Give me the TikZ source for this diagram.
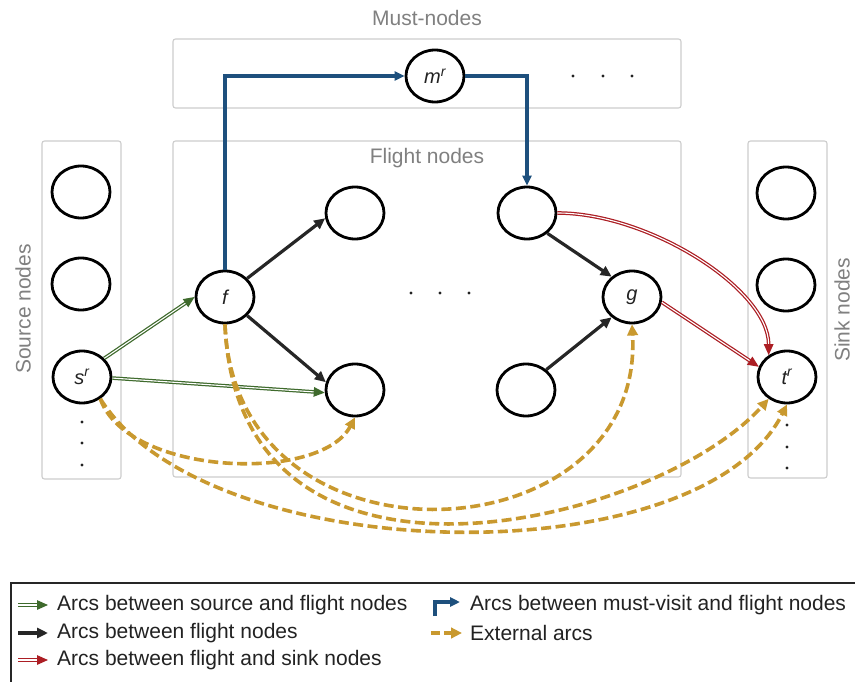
\documentclass[tikz,border=0pt]{standalone}
\usepackage{fontspec}
\setmainfont{Liberation Sans}
\usetikzlibrary{arrows.meta,shapes.geometric}
\definecolor{arcgreen}{RGB}{62,106,44}
\definecolor{arcblack}{RGB}{38,38,38}
\definecolor{arcred}{RGB}{172,30,36}
\definecolor{arcblue}{RGB}{30,80,125}
\definecolor{arcgold}{RGB}{201,153,47}
\definecolor{lblgray}{RGB}{128,128,128}
\definecolor{boxgray}{RGB}{205,205,205}
\definecolor{txt}{RGB}{34,34,34}
\begin{document}
\begin{tikzpicture}[x=1pt,y=-1pt,
  nd/.style={ellipse, draw=black, line width=2.8pt, minimum width=58pt, minimum height=52pt, inner sep=0pt, font=\fontsize{20}{20}\selectfont\itshape, text=txt},
  grp/.style={draw=boxgray, line width=1.1pt, rounded corners=2.5pt},
  grplbl/.style={text=lblgray, font=\fontsize{21}{21}\selectfont, inner sep=0pt},
  dotn/.style={circle, fill=txt, inner sep=0pt, minimum size=3.2pt},
  greenarc/.style={draw=arcgreen, line width=1.25pt, double=white, double distance=1.1pt, -{Triangle[length=11pt,width=9.5pt]}},
  redarc/.style={draw=arcred, line width=1.25pt, double=white, double distance=1.1pt, -{Triangle[length=11pt,width=9.5pt]}},
  blackarc/.style={draw=arcblack, line width=3.2pt, -{Triangle[length=11pt,width=10pt]}},
  bluearc/.style={draw=arcblue, line width=3.2pt, -{Triangle[length=10pt,width=9pt]}},
  goldarc/.style={draw=arcgold, line width=3.6pt, dash pattern=on 10pt off 4.5pt, -{Triangle[length=11pt,width=10.5pt]}},
  legtxt/.style={anchor=west, text=txt, font=\fontsize{21}{21}\selectfont, inner sep=0pt}
]
\useasboundingbox (0,0) rectangle (855,682);
\clip (0,0) rectangle (855,682);
\fill[white] (0,0) rectangle (855,682);

% group boxes
\draw[grp] (173,39) rectangle (681,108);
\draw[grp] (173,141) rectangle (681,477);
\draw[grp] (42,141) rectangle (121,479);
\draw[grp] (748,141) rectangle (827,478);

\node[grplbl] (lmust) at (427,18) {Must-nodes};
\node[grplbl] (lflight) at (427,158) {Flight nodes};
\node[grplbl, rotate=90] (lsrc) at (23,309) {Source nodes};
\node[grplbl, rotate=90] (lsink) at (842,310) {Sink nodes};

% nodes
\node[nd] (m)  at (435,76) {m\textsuperscript{r}};
\node[nd] (s1) at (81,192) {};
\node[nd] (s2) at (81,284) {};
\node[nd] (sr) at (82,377) {s\textsuperscript{r}};
\node[nd] (f)  at (225,297) {f};
\node[nd] (fu) at (355,213) {};
\node[nd] (fl) at (355,390) {};
\node[nd] (fa) at (527,213) {};
\node[nd] (g)  at (632,297) {g};
\node[nd] (fb) at (526,390) {};
\node[nd] (t1) at (786,193) {};
\node[nd] (t2) at (786,285) {};
\node[nd] (tr) at (787,377) {t\textsuperscript{r}};

% dots
\foreach \i/\x/\y in {a/573/76, b/603/76, c/632/76, d/411/293, e/440/293, h/469/293,
                      i/82/422, j/82/443, k/82/465, l/787/425, n/787/447, o/787/468}
  \node[dotn] (dot\i) at (\x,\y) {};

% must-visit arcs
\draw[bluearc] (f.north) |- (m.west);
\draw[bluearc] (m.east) -| (fa.north);

% flight arcs
\draw[blackarc] (f.40) -- (fu.190);
\draw[blackarc] (f.-40) -- (fl.165);
\draw[blackarc] (fa.-45) -- (g.135);
\draw[blackarc] (fb.45) -- (g.-135);

% source arcs
\draw[greenarc] (sr.40) -- (f.west);
\draw[greenarc] (sr.-2) -- (fl.185);

% sink arcs
\draw[redarc] (fa.east) .. controls +(92,0) and +(0,-66) .. (tr.130);
\draw[redarc] (g.-10) -- (tr.160);

% external arcs
\draw[goldarc] (sr.-50) .. controls +(27,77) and +(-35,66) .. (fl.south);
\draw[goldarc] (sr.-50) .. controls +(108,171) and +(-87,174) .. (tr.south);
\draw[goldarc] (f.south) .. controls +(13,305) and +(-112,125) .. (tr.-130);
\draw[goldarc] (f.south) .. controls +(9,255) and +(13,235) .. (g.south);

% legend
\draw[line width=1.3pt, black!85] (11,583) rectangle (890,720);
\coordinate (la1) at (18,605); \coordinate (lb1) at (48,605);
\coordinate (la2) at (18,633); \coordinate (lb2) at (48,633);
\coordinate (la3) at (18,660); \coordinate (lb3) at (48,660);
\coordinate (la4) at (435,616); \coordinate (lb4) at (460,602);
\coordinate (la5) at (431,633); \coordinate (lb5) at (462,633);
\draw[greenarc] (la1) -- (lb1);
\draw[blackarc] (la2) -- (lb2);
\draw[redarc] (la3) -- (lb3);
\draw[bluearc] (la4) |- (lb4);
\draw[goldarc, dash pattern=on 9pt off 4pt] (la5) -- (lb5);
\node[legtxt] (t1l) at (57,605) {Arcs between source and flight nodes};
\node[legtxt] (t2l) at (57,633) {Arcs between flight nodes};
\node[legtxt] (t3l) at (57,660) {Arcs between flight and sink nodes};
\node[legtxt] (t4l) at (470,605) {Arcs between must-visit and flight nodes};
\node[legtxt] (t5l) at (470,633) {External arcs};
\end{tikzpicture}
\end{document}
